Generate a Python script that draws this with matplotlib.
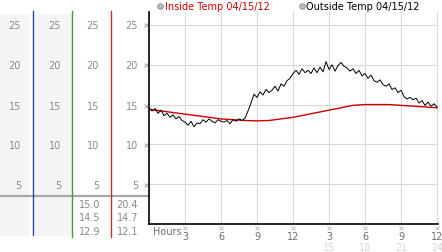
import matplotlib
matplotlib.use("Agg")
import matplotlib.pyplot as plt
import numpy as np

# ---- data ----
outside_temp = [
    14.6, 14.2, 14.5, 13.9, 14.3, 13.6, 13.9, 13.4, 13.7, 13.2, 13.5, 13.0, 12.8,
    12.4, 12.9, 12.2, 12.7, 12.6, 13.1, 12.8, 13.2, 12.9, 12.7, 13.1, 12.9,
    12.8, 13.0, 12.6, 13.1, 12.9, 13.2, 13.0, 13.3,
    14.2, 15.2, 16.3, 15.9,
    16.6, 16.2, 16.9, 16.5, 16.8, 17.3, 16.7, 17.6, 17.3, 18.0, 18.3, 18.9,
    19.3, 18.8, 19.5, 19.0, 19.3, 18.9, 19.6, 19.0, 19.7, 19.1, 20.4, 19.4,
    20.0, 19.2, 19.9, 20.3, 19.8, 19.6, 19.2, 19.5, 18.9, 19.3, 18.6, 18.9,
    18.3, 18.7, 18.0, 17.8, 18.1, 17.5, 17.3, 17.6, 16.9, 17.1, 16.5, 16.8,
    16.0, 15.7, 15.9, 15.6, 15.8, 15.2, 15.5, 14.9, 15.3, 14.8, 15.1, 14.7,
]
outside_hours = [i * 0.25 for i in range(len(outside_temp))]

inside_temp = [14.4, 14.2, 14.0, 13.8, 13.6, 13.4, 13.2, 13.1, 13.0, 12.95, 13.0, 13.2,
               13.4, 13.7, 14.0, 14.3, 14.6, 14.9, 15.0, 15.0, 15.0, 14.9, 14.8, 14.7, 14.6]
inside_hours = list(range(len(inside_temp)))

y_ticks = [5, 10, 15, 20, 25]
x_ticks = [3, 6, 9, 12, 15, 18, 21, 24]
x_tick_labels = ["3", "6", "9", "12", "3", "6", "9", "12"]
x_tick_labels2 = ["15", "18", "21", "24"]
stats_col3 = ["15.0", "14.5", "12.9"]
stats_col4 = ["20.4", "14.7", "12.1"]
legend_labels = ["Inside Temp 04/15/12", "Outside Temp 04/15/12"]

W, H = 442, 253
fig = plt.figure(figsize=(W / 100, H / 100), dpi=100)
fig.patch.set_facecolor("white")

# overlay axes in pixel coordinates
ov = fig.add_axes([0, 0, 1, 1])
ov.set_xlim(0, W)
ov.set_ylim(H, 0)
ov.axis("off")

# main plot
x0, x1, ytop, ybot = 149, 438, 13, 225
ax = fig.add_axes([x0 / W, (H - ybot) / H, (x1 - x0) / W, (ybot - ytop) / H])
ax.set_xlim(0, 24.08)
ax.set_ylim(0, (226 - 13) / 8.0)
ax.set_facecolor("none")
for yv in y_ticks:
    ax.axhline(yv, color="#d9d9d9", lw=0.8, zorder=0)
for xv in x_ticks:
    ax.axvline(xv, color="#d9d9d9", lw=0.8, zorder=0)
ax.plot(inside_hours, inside_temp, color="#cc0000", lw=1.0, zorder=3)
ax.plot(outside_hours, outside_temp, color="black", lw=0.7, zorder=4)
for s in ["top", "right"]:
    ax.spines[s].set_visible(False)
ax.spines["left"].set_linewidth(1.2)
ax.spines["bottom"].set_linewidth(1.2)
ax.set_xticks([])
ax.set_yticks([])

# left panel backgrounds
ov.add_patch(plt.Rectangle((0, 15), 30, 222, color="#f5f5f5", lw=0, zorder=0))
ov.add_patch(plt.Rectangle((35, 15), 37, 222, color="#f5f5f5", lw=0, zorder=0))
ov.plot([0, 149], [197, 197], color="#a8a8a8", lw=1.6, zorder=1)
ov.plot([33, 33], [12, 236], color="#2a4aa0", lw=1.0, zorder=2)
ov.plot([72, 72], [12, 238], color="#3aa03a", lw=1.0, zorder=2)
ov.plot([111, 111], [12, 238], color="#c03030", lw=1.0, zorder=2)

tick_col = "#8a8a8a"
ypix = {25: 26, 20: 66, 15: 107, 10: 146, 5: 186}
for xr in [21, 61, 99, 138]:
    for yv in y_ticks:
        ov.text(xr, ypix[yv], str(yv), ha="right", va="center", fontsize=7, color=tick_col)
for yv in y_ticks:
    ov.plot(146, ypix[yv], marker="x", ms=2.5, mew=0.6, color="#9a9a9a")

for i, (a, b) in enumerate(zip(stats_col3, stats_col4)):
    yy = 205 + i * 13.5
    ov.text(100, yy, a, ha="right", va="center", fontsize=7, color=tick_col)
    ov.text(138, yy, b, ha="right", va="center", fontsize=7, color=tick_col)

# x tick labels
ov.text(153, 232, "Hours", ha="left", va="center", fontsize=7, color="#707070")
for i, (xv, lab) in enumerate(zip(x_ticks, x_tick_labels)):
    px = x0 + xv * 12
    ov.plot(px, 229, marker="x", ms=2.2, mew=0.5, color="#aaaaaa")
    ov.text(px, 237, lab, ha="center", va="center", fontsize=7, color="#707070")
for xv, lab in zip(x_ticks[4:], x_tick_labels2):
    px = x0 + xv * 12
    ov.text(px, 248, lab, ha="center", va="center", fontsize=7, color="#d8d8d8")

# legend
ov.plot(160, 7, marker="o", ms=4, mfc="#bbbbbb", mec="#888888", mew=0.6)
ov.text(165, 7, legend_labels[0], ha="left", va="center", fontsize=7, color="#cc0000")
ov.plot(302, 7, marker="o", ms=4, mfc="#bbbbbb", mec="#888888", mew=0.6)
ov.text(306, 7, legend_labels[1], ha="left", va="center", fontsize=7, color="black")

fig.savefig("out.png", dpi=100)
